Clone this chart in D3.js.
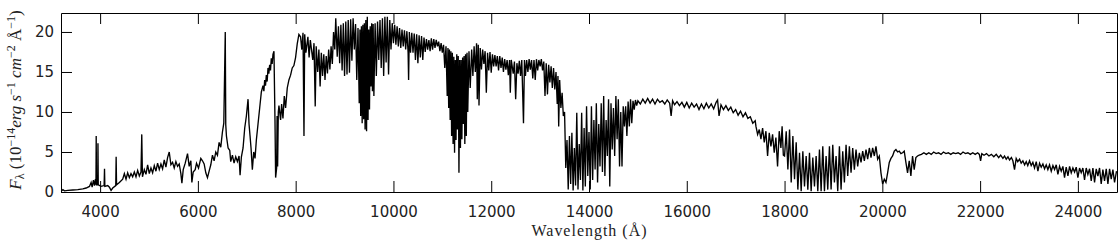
<!DOCTYPE html>
<html>
<head>
<meta charset="utf-8">
<script src="https://cdnjs.cloudflare.com/ajax/libs/d3/7.8.5/d3.min.js"></script>
<style>
    body { margin: 0; background: #fff; }
    .axis text { font-family: 'DejaVu Sans', sans-serif; font-size: 15px; fill: #222; }
    .axis path, .axis line { stroke: #000; stroke-width: 1; }
    .title { font-family: 'Liberation Serif', serif; font-size: 16px; fill: #222; }
    .spectrum { fill: none; stroke: #000; stroke-width: 1.35; stroke-linejoin: miter; }
</style>
</head>
<body>
<div id="vis"></div>
<script>
// Spectrum samples, [wavelength (A), flux], one region at a time
var fluxBlue = [
    [3204,0.1],[3238,0.3],[3272,0.15],[3340,0.2],[3442,0.25],[3544,0.3],[3646,0.4],[3714,0.5],[3782,0.7],[3816,1.2],
    [3837,0.6],[3864,1.5],[3884,0.8],[3905,1.6],[3915,0.9],[3920,7.0],[3926,0.9],[3952,0.9],[3956,6.1],[3962,0.9],
    [4020,0.7],[4082,0.8],[4090,2.9],[4097,0.7],[4156,0.8],[4190,0.6],[4224,0.2],[4258,0.5],[4320,0.8],[4328,4.4],
    [4336,0.9],[4394,1.2],[4462,1.6],[4496,2.3],[4530,1.6],[4564,2.4],[4598,1.8],[4632,2.3],[4666,1.9],[4700,2.5],
    [4734,1.9],[4768,2.7],[4802,2.0],[4836,2.5],[4852,7.2],[4866,1.9],[4904,2.8],[4938,2.2],[4972,3.4],[5006,2.3],
    [5040,3.0],[5074,2.4],[5108,3.3],[5142,2.6],[5176,3.6],[5210,2.8],[5244,3.5],[5278,2.9],[5312,4.0],[5346,3.1],
    [5380,4.3],[5414,5.0],[5448,3.4],[5482,3.7],[5516,3.0],[5550,3.8],[5584,3.2],[5618,3.5],[5652,2.3],[5673,1.1],
    [5700,2.8],[5741,3.6],[5788,4.8],[5822,3.2],[5856,3.9],[5877,1.2],[5904,2.5],[5945,2.8],[5972,3.6],[6013,3.0],
    [6060,4.2],[6094,3.9],[6128,3.5],[6162,2.4],[6196,1.8],[6230,2.6],[6264,3.4],[6298,4.6],[6332,3.9],[6366,5.0],
    [6400,4.6],[6434,6.2],[6468,5.6],[6502,7.5],[6530,8.6],[6560,20.0],[6570,8.4],[6584,7.0],[6618,5.5],[6652,5.2],
    [6672,3.8],[6706,4.6],[6740,3.6],[6774,4.4],[6808,3.8],[6842,4.5],[6863,2.1],[6890,4.4],[6924,5.5],[6958,8.0],
    [6992,9.5],[7026,11.6],[7046,8.5],[7067,7.0],[7087,5.5],[7114,2.8],[7142,5.0],[7169,4.2],[7196,6.5],[7230,8.5],
    [7264,10.5],[7298,12.5],[7332,13.3],[7350,12.6],[7366,14.0],[7383,13.3],[7400,14.6],[7417,13.8],[7434,15.5],[7451,14.8],
    [7468,15.9],[7485,15.2],[7502,16.7],[7519,16.0],[7536,17.2],[7556,17.6],[7577,9.0],[7590,1.8],[7611,3.0],[7620,9.5],
    [7631,3.2],[7645,10.0],[7658,10.8],[7692,9.0],[7713,11.0],[7740,9.2],[7767,12.0],[7794,10.5],[7828,13.0],[7862,14.0],
    [7896,14.6],[7930,15.5],[7964,15.8],[7998,16.8],[8032,18.5],[8066,19.7],[8100,19.4]
];

var fluxRed = [
    [8125,17.8],[8150,19.9],[8170,7.0],[8185,19.7],[8210,17.4],[8250,19.4],[8275,16.8],[8300,19.0],[8350,16.5],[8375,18.6],
    [8400,10.7],[8420,18.2],[8450,15.0],[8475,17.8],[8500,13.2],[8525,17.4],[8550,14.5],[8575,17.2],[8600,14.0],[8625,17.0],
    [8650,14.8],[8675,17.8],[8700,15.3],[8725,18.2],[8750,16.0],[8775,20.0],[8800,17.8],[8820,21.7],[8850,16.9],[8875,20.7],
    [8900,16.1],[8925,20.9],[8950,15.2],[8975,21.1],[9000,14.5],[9025,21.3],[9050,14.7],[9075,21.5],[9100,14.9],[9125,21.6],
    [9150,16.4],[9175,21.7],[9200,17.8],[9225,21.0],[9250,14.0],[9275,20.5],[9300,11.1],[9315,20.3],[9330,9.5],[9345,20.7],
    [9360,8.6],[9375,20.9],[9390,9.1],[9405,21.1],[9420,7.8],[9435,21.5],[9450,7.6],[9465,21.9],[9480,9.0],[9495,20.3],
    [9510,10.3],[9525,20.7],[9540,13.2],[9555,21.1],[9570,12.6],[9585,21.0],[9600,12.0],[9625,21.1],[9650,14.5],[9675,21.3],
    [9700,16.5],[9725,21.5],[9750,15.5],[9775,21.7],[9800,14.5],[9825,21.9],[9850,16.2],[9875,21.9],[9900,14.7],[9925,21.5],
    [9950,17.8],[9975,21.1],[10000,18.6]
];

var fluxY = [
    [10025,20.9],[10050,18.4],[10075,20.7],[10100,18.2],[10125,20.5],[10150,18.0],[10175,20.3],[10200,18.2],[10225,20.2],[10250,17.8],
    [10275,20.1],[10300,17.4],[10310,14.0],[10325,20.0],[10350,17.4],[10375,19.9],[10400,17.4],[10425,19.8],[10450,16.5],[10475,19.7],
    [10500,16.1],[10525,19.6],[10550,16.8],[10575,19.5],[10600,16.5],[10625,19.3],[10650,17.5],[10675,19.1],[10700,17.8],[10725,19.0],
    [10750,17.6],[10775,19.2],[10800,17.8],[10825,19.1],[10850,18.0],[10875,19.0],[10900,18.2],[10925,18.8],[10950,17.6],[10975,18.6],
    [11000,17.4],[11025,18.4],[11050,15.5],[11075,18.2],[11100,12.0],[11115,18.0],[11130,10.5],[11145,17.8],[11160,9.0],[11175,17.6],
    [11190,7.0],[11205,17.4],[11220,6.0],[11235,16.9],[11250,4.9],[11265,16.5],[11280,6.5],[11295,17.2],[11310,7.8],[11325,17.0],
    [11340,2.4],[11355,16.5],[11370,5.5],[11385,16.5],[11400,6.6],[11415,16.8],[11430,8.5],[11445,17.0],[11460,6.0],[11475,17.2],
    [11490,7.0],[11505,17.4],[11520,10.0],[11545,17.6],[11570,13.0],[11600,17.8],[11625,14.5],[11650,18.2],[11675,15.0],[11700,18.6],
    [11715,11.6],[11735,18.4],[11750,10.8],[11775,18.0],[11800,15.3],[11825,17.8],[11850,16.0],[11875,17.6],[11900,12.4],[11925,17.4],
    [11950,15.2],[11975,17.5],[12000,14.9],[12025,17.2],[12050,15.7],[12075,17.1],[12100,15.7],[12125,17.0],[12150,15.2],[12175,17.0],
    [12200,15.5],[12225,16.8],[12250,15.0],[12275,16.6],[12300,15.3],[12325,16.5],[12350,14.6],[12375,16.5],[12390,12.4],[12410,16.5],
    [12450,14.8],[12475,16.3],[12500,11.6],[12525,16.1],[12550,14.8],[12575,16.4],[12600,14.5],[12625,16.5],[12660,8.6],[12680,16.5],
    [12700,14.5],[12725,16.5],[12750,15.0],[12775,16.6],[12800,15.3],[12825,16.5],[12850,14.2],[12875,16.5],[12900,14.0],[12925,16.6],
    [12950,15.2],[12975,16.5],[13000,15.7],[13025,16.6],[13050,15.2],[13075,16.3],[13100,12.0],[13125,16.1],[13150,12.2],[13175,15.9],
    [13200,13.7],[13225,15.7],[13250,13.0],[13275,15.5],[13300,12.8],[13325,15.0],[13350,11.0],[13365,14.5],[13380,8.2],[13400,14.0],
    [13425,10.5],[13450,12.4],[13475,9.5]
];

var fluxJ = [
    [13500,10.0],[13525,3.0],[13550,6.5],[13575,0.3],[13600,7.0],[13625,1.0],[13650,7.4],[13675,0.2],[13700,5.5],[13725,0.8],
    [13750,9.9],[13775,0.3],[13800,6.0],[13825,1.5],[13850,9.9],[13875,0.2],[13900,8.0],[13925,0.7],[13950,10.7],[13975,2.0],
    [14000,7.5],[14025,0.3],[14050,10.7],[14075,1.5],[14100,9.0],[14125,2.8],[14150,11.1],[14175,1.2],[14200,8.5],[14225,3.2],
    [14250,11.1],[14275,2.5],[14300,12.0],[14325,2.0],[14350,9.0],[14375,4.5],[14400,11.6],[14425,0.7],[14450,11.1],[14475,5.3],
    [14500,10.5],[14525,4.5],[14550,12.0],[14575,6.6],[14600,11.6],[14625,3.2],[14650,10.0],[14675,3.2],[14700,10.7],[14725,8.2],
    [14750,10.7],[14775,7.0],[14800,11.3],[14825,8.2],[14850,11.6],[14875,8.6],[14900,11.4],[14925,10.3],[14950,11.5],[14975,10.8],
    [15000,11.4],[15050,11.0],[15100,11.6],[15150,11.1],[15200,11.7],[15250,11.1],[15300,11.6],[15350,11.0],[15400,11.6],[15450,11.2],
    [15500,11.4],[15550,11.0],[15600,11.5],[15650,11.1],[15680,9.5],[15710,11.4],[15750,10.9],[15800,11.3],[15850,10.8],[15900,11.2],
    [15950,10.6],[16000,11.2],[16050,10.5],[16100,11.1],[16150,10.6],[16200,11.0],[16250,10.3],[16300,11.0],[16350,10.4],[16400,11.1],
    [16450,10.5],[16500,11.0],[16550,10.4],[16600,11.2],[16630,11.5],[16660,9.5],[16700,10.9],[16750,10.3],[16800,10.8],[16850,10.2],
    [16900,10.6],[16950,9.9],[17000,10.3],[17050,9.6],[17100,10.1],[17150,9.4],[17200,9.9],[17250,9.2],[17300,9.4],[17350,8.6],
    [17400,8.9]
];

var fluxH = [
    [17415,8.2],[17449,7.2],[17483,7.8],[17517,6.6],[17551,8.0],[17585,6.2],[17619,7.6],[17653,4.5],[17687,7.4],[17721,5.7],
    [17755,7.2],[17789,4.9],[17823,6.8],[17857,3.2],[17891,7.6],[17925,5.5],[17950,8.2],[17975,4.6],[18000,4.5],[18034,7.6],
    [18068,2.8],[18102,7.8],[18136,1.2],[18170,7.0],[18204,1.6],[18238,6.2],[18272,0.3],[18306,4.9],[18340,0.1],[18374,5.1],
    [18408,0.7],[18442,4.5],[18476,0.3],[18510,4.9],[18544,0.1],[18578,4.3],[18612,0.7],[18646,4.5],[18680,0.1],[18714,5.3],
    [18748,0.1],[18782,5.7],[18816,0.1],[18850,4.5],[18884,0.3],[18918,5.7],[18952,0.3],[18986,5.9],[19020,1.2],[19054,4.5],
    [19088,0.1],[19122,5.7],[19156,0.3],[19190,5.1],[19224,1.2],[19258,5.9],[19292,2.0],[19326,5.7],[19360,2.4],[19394,5.5],
    [19428,2.8],[19462,5.3],[19496,3.2],[19530,4.9],[19564,3.7],[19598,5.1],[19632,3.9],[19666,5.3],[19700,4.1],[19734,5.5],
    [19768,4.3],[19802,5.5],[19836,4.5],[19870,5.7],[19904,4.1],[19938,4.5],[19972,2.4]
];

var fluxK = [
    [20006,1.0],[20040,1.6],[20074,1.2],[20108,2.4],[20142,3.7],[20176,4.2],[20210,4.5],[20244,5.1],[20278,5.3],[20312,5.0],
    [20346,5.1],[20380,4.8],[20414,4.9],[20448,5.1],[20482,3.7],[20516,2.4],[20550,3.9],[20584,2.0],[20618,4.5],[20652,2.8],
    [20686,4.3],[20720,4.5],[20754,4.6],[20800,4.7],[20850,4.9],[20900,4.7],[20950,4.9],[21000,4.7],[21050,5.0],[21100,4.8],
    [21150,4.9],[21200,4.7],[21250,5.0],[21300,4.8],[21350,4.9],[21400,4.7],[21450,4.9],[21500,4.8],[21550,4.9],[21600,4.7],
    [21650,5.0],[21700,4.8],[21750,4.9],[21800,4.7],[21850,4.9],[21900,4.7],[21950,4.9],[21985,4.7],[22010,3.9],[22035,4.8],
    [22080,4.6],[22130,4.8],[22180,4.5],[22230,4.7],[22280,4.4],[22330,4.7],[22380,4.3],[22420,4.6],[22466,4.2],[22500,4.5],
    [22534,4.1],[22570,4.4],[22602,4.0],[22640,4.3],[22670,3.9],[22704,2.8],[22738,4.2],[22770,3.8],[22807,4.1],[22840,3.6],
    [22875,3.9],[22910,3.4],[22943,3.8],[22975,3.3],[23011,3.9],[23045,3.3],[23079,3.7],[23113,3.0],[23148,3.8],[23182,2.6],
    [23216,3.6],[23250,3.1],[23284,3.5],[23318,2.9],[23352,3.4],[23386,2.8],[23420,3.4],[23455,2.6],[23489,3.3],[23523,2.8],
    [23557,3.4],[23591,2.2],[23625,3.2],[23659,2.6],[23693,3.2],[23727,1.8],[23761,3.1],[23796,2.0],[23830,3.2],[23864,2.4],
    [23898,3.0],[23932,2.5],[23966,3.1],[24000,1.8],[24034,3.0],[24068,2.4],[24102,3.0],[24136,1.5],[24170,3.0],[24204,2.2],
    [24239,2.9],[24273,1.4],[24307,3.0],[24341,1.2],[24375,2.9],[24409,2.0],[24443,3.0],[24477,1.0],[24511,2.8],[24545,1.4],
    [24580,2.9],[24614,1.0],[24648,2.9],[24682,1.6],[24716,2.8],[24750,1.2],[24790,2.6]
];

// Axis ranges and ticks
var xDomain = [3200, 24800];
var yDomain = [0, 22.37];
var xTicks = [4000, 6000, 8000, 10000, 12000, 14000, 16000, 18000, 20000, 22000, 24000];
var yTicks = [0, 5, 10, 15, 20];

// Whole spectrum in one series
var spectrum = fluxBlue.concat(fluxRed, fluxY, fluxJ, fluxH, fluxK);

// Height and width of total area
var width = 1120;
var height = 243;

// Edges of the drawing area (not called top/left: those clash with window globals)
var plotLeft = 61, plotRight = 1117, plotTop = 13, plotBottom = 192;
var tickLen = 11;

var svg = d3.select('#vis')
    .append('svg')
    .attr('width', width)
    .attr('height', height);

// Scales
var xScale = d3.scaleLinear().domain(xDomain).range([plotLeft, plotRight]);
var yScale = d3.scaleLinear().domain(yDomain).range([plotBottom, plotTop]);

// Clip the spectrum to the frame
svg.append('clipPath')
    .attr('id', 'plot-clip')
    .append('rect')
    .attr('x', plotLeft)
    .attr('y', plotTop)
    .attr('width', plotRight - plotLeft)
    .attr('height', plotBottom - plotTop + 1);

// Draw the spectrum line
var line = d3.line()
    .x(function(d) { return xScale(d[0]); })
    .y(function(d) { return yScale(d[1]); });

svg.append('path')
    .datum(spectrum)
    .attr('class', 'spectrum')
    .attr('clip-path', 'url(#plot-clip)')
    .attr('d', line);

// Bottom axis with labels, ticks pointing inward
svg.append('g')
    .attr('class', 'axis')
    .attr('transform', 'translate(0,' + plotBottom + ')')
    .call(d3.axisBottom(xScale).tickValues(xTicks).tickSize(-tickLen).tickSizeOuter(0).tickPadding(14).tickFormat(d3.format('d')));

// Top axis, ticks only
svg.append('g')
    .attr('class', 'axis')
    .attr('transform', 'translate(0,' + plotTop + ')')
    .call(d3.axisTop(xScale).tickValues(xTicks).tickSize(-tickLen).tickSizeOuter(0).tickFormat(''));

// Left axis with labels
svg.append('g')
    .attr('class', 'axis')
    .attr('transform', 'translate(' + plotLeft + ',0)')
    .call(d3.axisLeft(yScale).tickValues(yTicks).tickSize(-tickLen).tickSizeOuter(0).tickPadding(7));

// Right axis, ticks only
svg.append('g')
    .attr('class', 'axis')
    .attr('transform', 'translate(' + plotRight + ',0)')
    .call(d3.axisRight(yScale).tickValues(yTicks).tickSize(-tickLen).tickSizeOuter(0).tickFormat(''));

// x axis title
svg.append('text')
    .attr('class', 'title')
    .attr('x', (plotLeft + plotRight) / 2)
    .attr('y', 236)
    .attr('text-anchor', 'middle')
    .attr('textLength', 115)
    .attr('lengthAdjust', 'spacing')
    .text('Wavelength (Å)');

// y axis title, built from pieces for the italics and super/subscripts
var yParts = [
    {t: 'F', it: true},
    {t: 'λ', shift: 3},
    {t: ' (10'},
    {t: '−14', shift: -6},
    {t: 'erg', it: true},
    {t: ' s', it: true},
    {t: '−1', shift: -6},
    {t: ' cm', it: true},
    {t: '−2', shift: -6},
    {t: ' Å'},
    {t: '−1', shift: -6},
    {t: ')'}
];

var yTitle = svg.append('text')
    .attr('class', 'title')
    .attr('text-anchor', 'middle')
    .attr('transform', 'translate(21,100) rotate(-90)');

var lastShift = 0;
yParts.forEach(function(p) {
    var s = p.shift || 0;
    yTitle.append('tspan')
        .attr('dy', s - lastShift)
        .attr('font-style', p.it ? 'italic' : 'normal')
        .attr('font-size', s ? '12px' : '17px')
        .text(p.t);
    lastShift = s;
});
</script>
</body>
</html>
